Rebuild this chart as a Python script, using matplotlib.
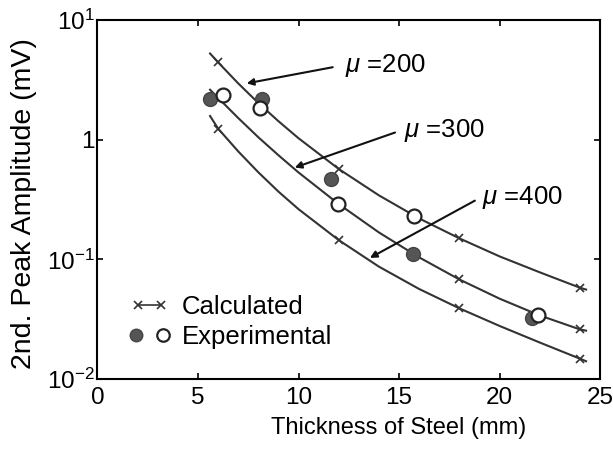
import matplotlib.pyplot as plt
from matplotlib.lines import Line2D
from matplotlib.legend_handler import HandlerLine2D, HandlerTuple

plt.rcParams['font.family'] = ['Liberation Sans', 'DejaVu Sans']
plt.rcParams['mathtext.fontset'] = 'custom'
plt.rcParams['mathtext.rm'] = 'Liberation Sans'
plt.rcParams['mathtext.it'] = 'Liberation Sans:italic'

# calculated curves (thickness in mm, amplitude in mV)
x_curve = [5.6, 6, 7, 8, 9, 10, 12, 14, 16, 18, 20, 22, 24, 24.3]
mu200 = [5.26, 4.44, 2.96, 2.03, 1.43, 1.03, 0.570, 0.343, 0.220, 0.150, 0.106, 0.078, 0.058, 0.056]
mu300 = [2.62, 2.24, 1.52, 1.05, 0.743, 0.533, 0.290, 0.168, 0.104, 0.068, 0.047, 0.034, 0.026, 0.0254]
mu400 = [1.58, 1.24, 0.80, 0.535, 0.369, 0.263, 0.145, 0.087, 0.0566, 0.039, 0.0278, 0.0202, 0.0148, 0.0141]

# calculated points (crosses)
x_calc = [6, 12, 18, 24]
calc200 = [4.44, 0.570, 0.150, 0.058]
calc300 = [2.24, 0.290, 0.068, 0.026]
calc400 = [1.24, 0.145, 0.039, 0.0148]

# experimental points
x_filled = [5.6, 8.2, 11.6, 15.7, 21.6]
y_filled = [2.2, 2.2, 0.47, 0.110, 0.0326]
x_open = [6.25, 8.1, 11.95, 15.75, 21.9]
y_open = [2.35, 1.86, 0.29, 0.23, 0.0345]

labels = ['$\\mu$ =200', '$\\mu$ =300', '$\\mu$ =400']
label_xy = [(12.3, 4.2), (15.24, 1.2), (19.12, 0.328)]
arrow_tail = [(11.7, 4.04), (14.8, 1.15), (18.77, 0.31)]
arrow_head = [(7.42, 2.96), (9.81, 0.586), (13.55, 0.103)]

fig = plt.figure(figsize=(6.13, 4.68), dpi=100)
ax = fig.add_axes([0.159, 0.19, 0.82, 0.767])

lc = '#333333'
for yc, yx in [(mu200, calc200), (mu300, calc300), (mu400, calc400)]:
    ax.plot(x_curve, yc, color=lc, lw=1.5, zorder=2)
    ax.plot(x_calc, yx, ls='none', marker='x', ms=6, mew=1.2, color=lc, zorder=3)

ax.plot(x_filled, y_filled, ls='none', marker='o', ms=10, mfc='#555555',
        mec='#444444', mew=1.0, zorder=4)
ax.plot(x_open, y_open, ls='none', marker='o', ms=10, mfc='white',
        mec='#222222', mew=1.6, zorder=4)

for txt, pos, tail, head in zip(labels, label_xy, arrow_tail, arrow_head):
    ax.annotate('', xy=head, xytext=tail,
                arrowprops=dict(arrowstyle='-|>', color='#111111', lw=1.5,
                                mutation_scale=10, shrinkA=0, shrinkB=0))
    ax.text(pos[0], pos[1], txt, fontsize=18.5, ha='left', va='center')

ax.set_yscale('log')
ax.set_xlim(0, 25)
ax.set_ylim(0.01, 10)
ax.set_xticks([0, 5, 10, 15, 20, 25])
ax.set_yticks([0.01, 0.1, 1, 10])
ax.set_yticklabels(['$10^{-2}$', '$10^{-1}$', '1', '$10^{1}$'])
ax.minorticks_off()
ax.tick_params(direction='in', length=4, width=1.2, top=True, right=True,
               labelsize=17.5)
ax.tick_params(axis='x', pad=6)
ax.tick_params(axis='y', pad=2)
for s in ax.spines.values():
    s.set_linewidth(1.5)

ax.set_xlabel('Thickness of Steel (mm)', fontsize=17)
ax.set_ylabel('2nd. Peak Amplitude (mV)', fontsize=20.5)
ax.xaxis.set_label_coords(0.6, -0.105)
ax.yaxis.set_label_coords(-0.12, 0.49)

h_calc = Line2D([], [], color=lc, lw=1.2, marker='x', ms=6, mew=1.2)
h_fill = Line2D([], [], ls='none', marker='o', ms=9, mfc='#555555', mec='#444444')
h_open = Line2D([], [], ls='none', marker='o', ms=9, mfc='white', mec='#222222', mew=1.6)
ax.legend([h_calc, (h_fill, h_open)], ['Calculated', 'Experimental'],
          loc='lower left', bbox_to_anchor=(0.03, 0.035), frameon=False,
          fontsize=18.5, numpoints=1, handlelength=1.5, handletextpad=0.5,
          labelspacing=0.2, borderpad=0.2,
          handler_map={h_calc: HandlerLine2D(numpoints=2),
                       tuple: HandlerTuple(ndivide=None, pad=0.6)})

fig.savefig('out.png', dpi=100)
